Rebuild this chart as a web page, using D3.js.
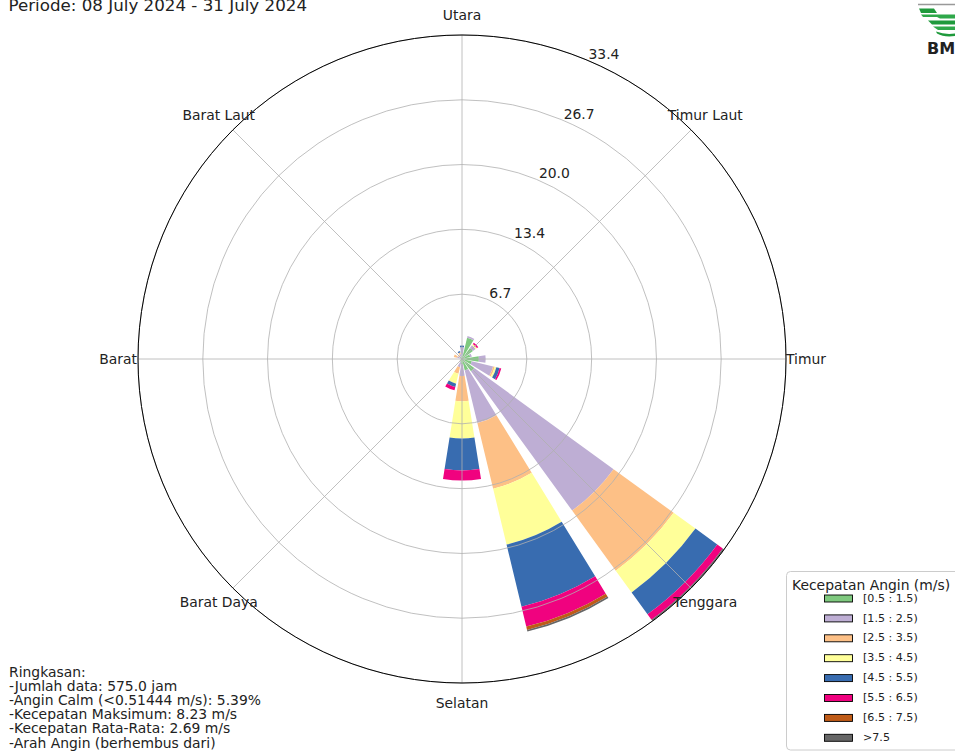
<!DOCTYPE html>
<html>
<head>
<meta charset="utf-8">
<script src="https://cdn.jsdelivr.net/npm/d3@7"></script>
<style>
  html, body { margin: 0; padding: 0; background: #fff; }
  svg { display: block; font-family: "DejaVu Sans", sans-serif; }
</style>
</head>
<body>
<svg id="chart" width="955" height="753"></svg>
<script>
// 16 compass sectors (direction the wind blows from), bearing in degrees
const sectors = ["N","NNE","NE","ENE","E","ESE","SE","SSE","S","SSW","SW","WSW","W","WNW","NW","NNW"];
const sectorAngles = [0, 22.5, 45, 67.5, 90, 112.5, 135, 157.5, 180, 202.5, 225, 247.5, 270, 292.5, 315, 337.5];

// Speed classes (m/s) and their colours
const speedBins = ["[0.5 : 1.5)", "[1.5 : 2.5)", "[2.5 : 3.5)", "[3.5 : 4.5)", "[4.5 : 5.5)", "[5.5 : 6.5)", "[6.5 : 7.5)", ">7.5"];
const binColors = ["#7fc97f", "#beaed4", "#fdc086", "#ffff99", "#386cb0", "#f0027f", "#bf5b17", "#666666"];

// Frequency (%) of each speed class per sector, ordered as `sectors`
const freq05 = [0.35, 2.26, 1.39, 0.87, 1.74, 1.04, 1.57, 1.22, 0.52, 0.35, 0.17, 0.17, 0.17, 0.17, 0.17, 0.17];
const freq15 = [0.87, 0.17, 0.35, 0.17, 0.70, 2.26, 17.74, 5.57, 1.22, 0.52, 0.17, 0, 0, 0.35, 0.17, 0.35];
const freq25 = [0, 0, 0, 0, 0, 0.17, 7.65, 6.96, 2.61, 0.70, 0, 0, 0, 0.35, 0.17, 0.17];
const freq35 = [0, 0, 0.17, 0, 0, 0.17, 2.78, 5.91, 3.83, 1.04, 0, 0, 0, 0, 0, 0];
const freq45 = [0.17, 0, 0, 0, 0, 0.35, 2.78, 6.61, 3.30, 0.35, 0, 0, 0, 0, 0, 0.17];
const freq55 = [0, 0, 0.17, 0, 0, 0.17, 0.70, 2.09, 1.04, 0.35, 0, 0, 0, 0, 0, 0];
const freq65 = [0, 0, 0, 0, 0, 0, 0, 0.35, 0, 0, 0, 0, 0, 0, 0, 0];
const freq75 = [0, 0, 0, 0, 0, 0, 0.17, 0.17, 0, 0, 0, 0, 0, 0, 0, 0];
const series = [freq05, freq15, freq25, freq35, freq45, freq55, freq65, freq75];

// Radial gridline values and compass labels
const ringTicks = [6.68, 13.36, 20.04, 26.71, 33.39];
const dirLabels = ["Utara", "Timur Laut", "Timur", "Tenggara", "Selatan", "Barat Daya", "Barat", "Barat Laut"];
const dirAngles = [0, 45, 90, 135, 180, 225, 270, 315];

const titleText = "Periode: 08 July 2024 - 31 July 2024";
const summaryLines = [
  "Ringkasan:",
  "-Jumlah data: 575.0 jam",
  "-Angin Calm (<0.51444 m/s): 5.39%",
  "-Kecepatan Maksimum: 8.23 m/s",
  "-Kecepatan Rata-Rata: 2.69 m/s",
  "-Arah Angin (berhembus dari)"
];
const legendTitle = "Kecepatan Angin (m/s)";

// ---------------------------------------------------------------
const svg = d3.select("#chart");
const cx = 462, cy = 359, R = 324;
const rad = Math.PI / 180;
const sectorWidth = 22.5 * 0.8;

const rows = sectors.map((s, i) => {
  const row = { sector: s, angle: sectorAngles[i] };
  series.forEach((arr, k) => { row["b" + k] = arr[i]; });
  return row;
});
const keys = series.map((_, k) => "b" + k);
const stacked = d3.stack().keys(keys)(rows);
const rmax = d3.max(rows, d => d3.sum(keys, k => d[k]));
const r = d3.scaleLinear().domain([0, rmax]).range([0, R]);

const plot = svg.append("g").attr("transform", `translate(${cx},${cy})`);

// stacked wedges
const arc = d3.arc();
stacked.forEach((layer, k) => {
  plot.append("g").selectAll("path")
    .data(layer.filter(d => d[1] - d[0] > 0))
    .join("path")
    .attr("d", d => arc({
      innerRadius: r(d[0]),
      outerRadius: r(d[1]),
      startAngle: (d.data.angle - sectorWidth / 2) * rad,
      endAngle: (d.data.angle + sectorWidth / 2) * rad
    }))
    .attr("fill", binColors[k]);
});

// grid on top of the bars
const grid = plot.append("g").attr("fill", "none").attr("stroke", "#b0b0b0").attr("stroke-width", 0.8);
grid.selectAll("circle").data(ringTicks).join("circle").attr("r", d => r(d));
grid.selectAll("line").data(dirAngles).join("line")
  .attr("x1", 0).attr("y1", 0)
  .attr("x2", d => R * Math.sin(d * rad))
  .attr("y2", d => -R * Math.cos(d * rad));

// outer frame
plot.append("circle").attr("r", R).attr("fill", "none").attr("stroke", "#000").attr("stroke-width", 1);

// radial tick labels along 22.5°
const fmt = d3.format(".1f");
plot.append("g").selectAll("text").data(ringTicks).join("text")
  .attr("x", d => r(d) * Math.sin(22.5 * rad) + 2.5)
  .attr("y", d => -r(d) * Math.cos(22.5 * rad) - 1)
  .attr("font-size", 13.9).attr("fill", "#222")
  .text(d => fmt(d));

// compass labels
plot.append("g").selectAll("text").data(dirLabels).join("text")
  .attr("x", (d, i) => 344 * Math.sin(dirAngles[i] * rad))
  .attr("y", (d, i) => -344 * Math.cos(dirAngles[i] * rad) + 4.6)
  .attr("text-anchor", "middle")
  .attr("font-size", 13.9).attr("fill", "#222")
  .text(d => d);

// title
svg.append("text").attr("x", 8.5).attr("y", 11).attr("font-size", 16.7).attr("fill", "#222").text(titleText);

// summary block
svg.append("g").selectAll("text").data(summaryLines).join("text")
  .attr("x", 9).attr("y", (d, i) => 676.5 + i * 14.2)
  .attr("font-size", 13.9).attr("fill", "#222")
  .text(d => d);

// legend
const lg = svg.append("g");
lg.append("rect").attr("x", 786.5).attr("y", 571.5).attr("width", 200).attr("height", 178.5)
  .attr("rx", 4).attr("fill", "#fff").attr("stroke", "#cccccc").attr("stroke-width", 1);
lg.append("text").attr("x", 792).attr("y", 590).attr("font-size", 13.9).attr("fill", "#222").text(legendTitle);
const items = lg.selectAll("g.item").data(speedBins).join("g").attr("class", "item")
  .attr("transform", (d, i) => `translate(0,${i * 19.9})`);
items.append("rect").attr("x", 824.5).attr("y", 595).attr("width", 28).attr("height", 7)
  .attr("fill", (d, i) => binColors[i]).attr("stroke", "#000").attr("stroke-width", 0.9);
items.append("text").attr("x", 863).attr("y", 601.7).attr("font-size", 11.1).attr("fill", "#222").text(d => d);

// agency logo (top right, partly outside the frame)
const logo = svg.append("g");
logo.append("line").attr("x1", 918).attr("x2", 955).attr("y1", 4.5).attr("y2", 4.5)
  .attr("stroke", "#999").attr("stroke-width", 1.5);
const bands = [
  "M919,8.5 L934,8.5 L937,13 L921,13 Z",
  "M921,14.5 L955,14.5 L955,18.5 L940,18.5 L937,17 L923,17 Z",
  "M928,20.5 L955,20.5 L955,24.5 L932,24.5 Z",
  "M933,26.5 L955,26.5 L955,30 L938,30 Z",
  "M936,31.5 Q945,35 955,33.5 L955,36 Q944,37.5 937,33.5 Z"
];
logo.selectAll("path").data(bands).join("path").attr("d", d => d)
  .attr("fill", (d, i) => i % 2 ? "#2fa84a" : "#1f9a3c");
logo.append("text").attr("x", 927).attr("y", 53.5).attr("font-size", 16).attr("font-weight", "bold")
  .attr("fill", "#222").text("BMKG");
</script>
</body>
</html>
